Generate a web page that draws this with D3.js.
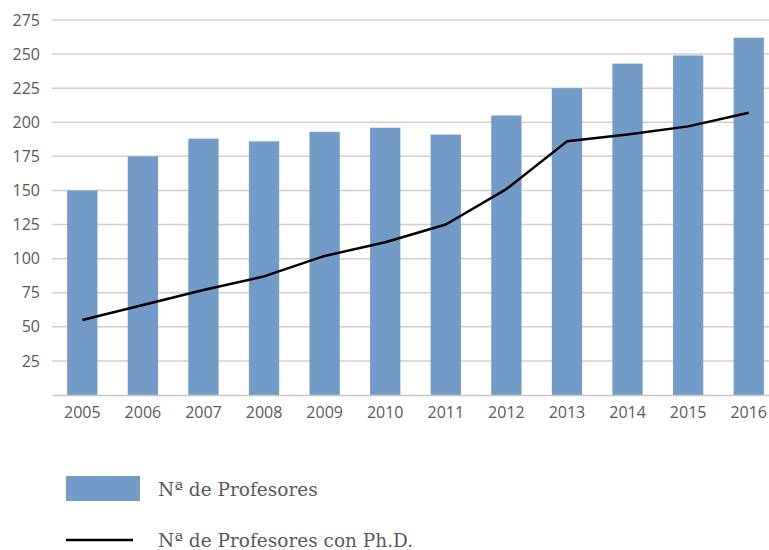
<!DOCTYPE html>
<html>
<head>
<meta charset="utf-8">
<script src="https://cdn.jsdelivr.net/npm/d3@7"></script>
<style>
  body { margin: 0; background: #fff; }
  svg { display: block; }
</style>
</head>
<body>
<div id="chart"></div>
<script>
// data
var years = ["2005", "2006", "2007", "2008", "2009", "2010", "2011", "2012", "2013", "2014", "2015", "2016"];
var profesores = [150, 175, 188, 186, 193, 196, 191, 205, 225, 243, 249, 262];
var profesoresPhD = [55, 66, 77, 87, 102, 112, 125, 151, 186, 191, 197, 207];
var yTicks = [25, 50, 75, 100, 125, 150, 175, 200, 225, 250, 275];
var legendLabels = ["Nª de Profesores", "Nª de Profesores con Ph.D."];

var svgWidth = 769;
var svgHeight = 550;

var margin = { top: 20, right: -10, bottom: 155, left: 52 };
var width = svgWidth - margin.left - margin.right;
var height = svgHeight - margin.top - margin.bottom;

var svg = d3.select("#chart")
  .append("svg")
  .attr("width", svgWidth)
  .attr("height", svgHeight);

var chartGroup = svg.append("g")
  .attr("transform", `translate(${margin.left}, ${margin.top})`);

var xScale = d3.scaleBand()
  .domain(years)
  .range([0, width])
  .paddingInner(0.5)
  .paddingOuter(0.25);

var yScale = d3.scaleLinear()
  .domain([0, 275])
  .range([height, 0]);

// gridlines
chartGroup.append("g")
  .selectAll("line")
  .data(yTicks)
  .enter()
  .append("line")
  .attr("x1", 0)
  .attr("x2", width)
  .attr("y1", d => yScale(d))
  .attr("y2", d => yScale(d))
  .attr("stroke", "#d0d0d0")
  .attr("stroke-width", 1.5);

// y axis labels
var leftAxis = d3.axisLeft(yScale).tickValues(yTicks).tickSize(0).tickPadding(12);
chartGroup.append("g")
  .call(leftAxis)
  .call(g => g.select(".domain").remove())
  .selectAll("text")
  .attr("font-family", "'Open Sans', sans-serif")
  .attr("font-size", "16px")
  .attr("fill", "#595959");

// bars
chartGroup.selectAll("rect.bar")
  .data(profesores)
  .enter()
  .append("rect")
  .attr("class", "bar")
  .attr("x", (d, i) => xScale(years[i]))
  .attr("y", d => yScale(d))
  .attr("width", xScale.bandwidth())
  .attr("height", d => height - yScale(d))
  .attr("fill", "#729bc8");

// x axis
var bottomAxis = d3.axisBottom(xScale).tickSize(0).tickPadding(12);
chartGroup.append("g")
  .attr("transform", `translate(0, ${height})`)
  .call(bottomAxis)
  .call(g => g.select(".domain").attr("stroke", "#c8c8c8").attr("stroke-width", 1.5))
  .selectAll("text")
  .attr("font-family", "'Open Sans', sans-serif")
  .attr("font-size", "16px")
  .attr("fill", "#595959");

// phd line
var line = d3.line()
  .x((d, i) => xScale(years[i]) + xScale.bandwidth() / 2)
  .y(d => yScale(d));

chartGroup.append("path")
  .datum(profesoresPhD)
  .attr("d", line)
  .attr("fill", "none")
  .attr("stroke", "#000")
  .attr("stroke-width", 2.5)
  .attr("stroke-linejoin", "round");

// legend
var legend = svg.append("g");
legend.append("rect")
  .attr("x", 66)
  .attr("y", 476)
  .attr("width", 74)
  .attr("height", 25)
  .attr("fill", "#729bc8");
legend.append("line")
  .attr("x1", 66)
  .attr("x2", 133)
  .attr("y1", 540)
  .attr("y2", 540)
  .attr("stroke", "#000")
  .attr("stroke-width", 2.5);
legend.selectAll("text")
  .data(legendLabels)
  .enter()
  .append("text")
  .attr("x", 158)
  .attr("y", (d, i) => 496 + i * 51)
  .attr("font-family", "'DejaVu Serif', serif")
  .attr("font-size", "18.5px")
  .attr("fill", "#595959")
  .text(d => d);
</script>
</body>
</html>
